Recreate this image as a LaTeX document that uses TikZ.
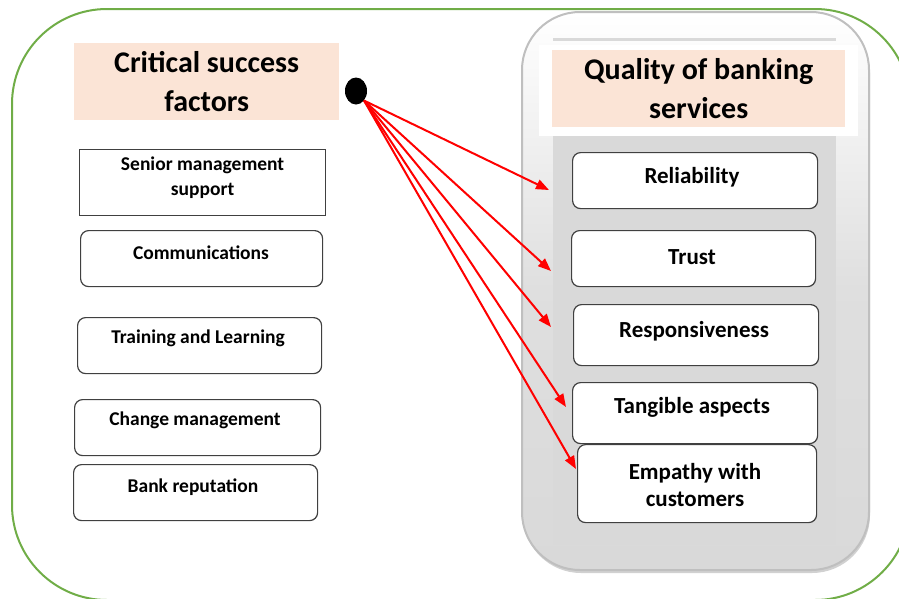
\documentclass[tikz,border=0pt]{standalone}
\usepackage{fontspec}
\setmainfont{Carlito}
\usetikzlibrary{arrows.meta,shapes.geometric,shadows}
\definecolor{frame}{RGB}{112,173,71}
\definecolor{peach}{RGB}{251,228,214}
\definecolor{panel}{RGB}{217,217,217}
\definecolor{rim}{RGB}{191,191,191}
\definecolor{boxline}{RGB}{64,64,64}
\tikzset{
  title/.style={fill=peach, inner sep=0pt, anchor=north west, font=\bfseries\fontsize{30}{39}\selectfont, align=center},
  cbox/.style={draw=boxline, line width=1.2pt, rounded corners=8pt, inner sep=0pt, anchor=north west},
  sbox/.style={draw=boxline, line width=1.2pt, inner sep=0pt, anchor=north west},
  ltxt/.style={font=\bfseries\fontsize{19.5}{25}\selectfont, align=center, inner sep=0pt},
  rtxt/.style={font=\bfseries\fontsize{23}{27}\selectfont, align=center, inner sep=0pt},
  link/.style={draw=red, line width=2pt, -{Triangle[length=13pt,width=10pt]}},
}
\begin{document}
\begin{tikzpicture}[x=1pt,y=-1pt]
\useasboundingbox (0,0) rectangle (899,598);
% outer green frame
\begin{scope}
\clip (0,0) rectangle (899,598);
\draw[frame, line width=2pt, rounded corners=95pt] (12,9) rectangle (910,600);
\end{scope}
% grey container on the right
\draw[rim, line width=2pt, rounded corners=58pt, top color=white, bottom color=panel, middle color=panel!85,
      drop shadow={shadow xshift=1pt, shadow yshift=-3pt, fill=gray!60, opacity=0.6}]
  (522,12) rectangle (869,570);
\fill[panel] (553,136) rectangle (836,545);
\draw[panel, line width=3pt] (553,39) -- (836,39);
\fill[white] (539,45) rectangle (858,136);
% titles
\node[title, minimum width=265pt, minimum height=77pt] (lt) at (74,43) {Critical success\\factors};
\node[title, minimum width=293pt, minimum height=77pt] (rt) at (552,50) {Quality of banking\\services};
% source dot
\node[fill=black, ellipse, minimum width=22pt, minimum height=27pt, inner sep=0pt] (dot) at (356,91) {};
% left column
\node[sbox, minimum width=246pt, minimum height=66pt] (a1) at (79,149) {};
\node[ltxt, anchor=north] (a1t) at (a1.north) [yshift=-8pt] {Senior management\\support};
\node[cbox, minimum width=242pt, minimum height=56pt] (a2) at (80,230) {};
\node[ltxt] (a2t) at (201,253) {Communications};
\node[cbox, minimum width=244pt, minimum height=56pt] (a3) at (77,317) {};
\node[ltxt] (a3t) at (198,338) {Training and Learning};
\node[cbox, minimum width=246pt, minimum height=56pt] (a4) at (74,399) {};
\node[ltxt] (a4t) at (195,420) {Change management};
\node[cbox, minimum width=244pt, minimum height=56pt] (a5) at (73,464) {};
\node[ltxt] (a5t) at (193,487) {Bank reputation};
% right column
\node[cbox, minimum width=245pt, minimum height=56pt, fill=white] (b1) at (572,152) {};
\node[rtxt] (b1t) at (692,177) {Reliability};
\node[cbox, minimum width=244pt, minimum height=56pt, fill=white] (b2) at (571,230) {};
\node[rtxt] (b2t) at (692,257) {Trust};
\node[cbox, minimum width=245pt, minimum height=61pt, fill=white] (b3) at (573,304) {};
\node[rtxt] (b3t) at (694,331) {Responsiveness};
\node[cbox, minimum width=245pt, minimum height=61pt, fill=white] (b4) at (572,382) {};
\node[rtxt] (b4t) at (692,407) {Tangible aspects};
\node[cbox, minimum width=239pt, minimum height=78pt, fill=white] (b5) at (577,444) {};
\node[rtxt] (b5t) at (695,485) {Empathy with\\customers};
% arrow ends
\coordinate (e1) at (549,190);
\coordinate (e2) at (551,271);
\coordinate (e3) at (551,327);
\coordinate (e4) at (566,407);
\coordinate (e5) at (576,469);
\foreach \e in {e1,e2,e3,e4,e5}
  \draw[link] (dot.-50) -- (\e);
\end{tikzpicture}
\end{document}
